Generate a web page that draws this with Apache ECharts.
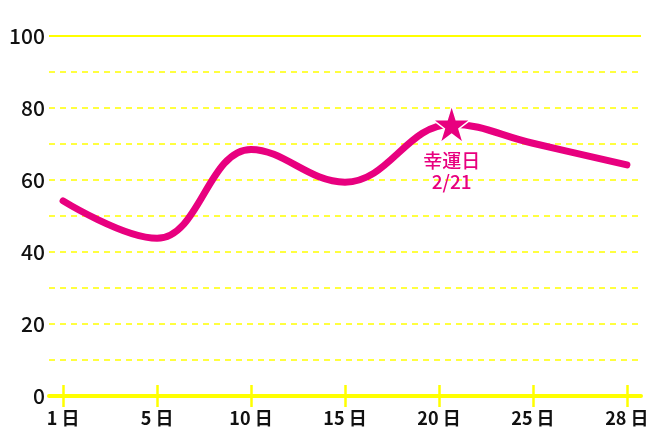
<!DOCTYPE html>
<html>
<head>
<meta charset="utf-8">
<script src="https://cdn.jsdelivr.net/npm/echarts@6/dist/echarts.min.js"></script>
<style>
html,body{margin:0;padding:0;background:#fff;}
#c{width:660px;height:440px;}
</style>
</head>
<body>
<div id="c"></div>
<script>
// ---- data ----
const dayLabels = ['1 日', '5 日', '10 日', '15 日', '20 日', '25 日', '28 日'];
const tickPos = [0, 1, 2, 3, 4, 5, 6];
// slot position of each reading on the x axis, and its value
const pointPos = [0, 1, 2, 3, 4.135, 5, 6];
const values = [54.2, 43.8, 68.5, 59.4, 75.5, 70.2, 64.2];
const luckyIndex = 4;
const luckyText = ['幸運日', '2/21'];
const yTicks = [0, 20, 40, 60, 80, 100];

const PINK = '#e8007f';
const YELLOW = '#ffff00';
const FONT = '"Noto Sans CJK JP", "Noto Sans", sans-serif';
const STAR = 'path://M50,0 L61.8,36.2 L100,36.2 L69.1,58.8 L80.9,95.1 L50,72.7 L19.1,95.1 L30.9,58.8 L0,36.2 L38.2,36.2 Z';

const chart = echarts.init(document.getElementById('c'));
const xCommon = {
  type: 'value', min: -0.15, max: 6.15, position: 'bottom',
  splitLine: { show: false }
};
chart.setOption({
  animation: false,
  grid: { left: 49, right: 19, top: 36, bottom: 44, containLabel: false },
  xAxis: [
    Object.assign({}, xCommon, {
      axisLine: { show: true, lineStyle: { color: YELLOW, width: 4 } },
      axisTick: { show: true, customValues: tickPos, length: 11, lineStyle: { color: YELLOW, width: 2.5 } },
      axisLabel: {
        show: true, customValues: tickPos, margin: 13,
        color: '#111', fontSize: 18, fontWeight: 'bold', fontFamily: FONT,
        formatter: v => dayLabels[tickPos.indexOf(Math.round(v))] || ''
      }
    }),
    Object.assign({}, xCommon, {
      axisLine: { show: false },
      axisTick: { show: true, inside: true, customValues: tickPos, length: 11, lineStyle: { color: YELLOW, width: 2.5 } },
      axisLabel: { show: false }
    })
  ],
  yAxis: {
    type: 'value', min: 0, max: 100, interval: 10,
    axisLine: { show: false }, axisTick: { show: false },
    axisLabel: {
      margin: 4, color: '#111', fontSize: 21, fontWeight: 500, fontFamily: FONT,
      formatter: v => yTicks.indexOf(v) >= 0 ? String(v) : ''
    },
    splitLine: { show: true, lineStyle: { color: YELLOW, width: 1.5, type: [6, 5] } }
  },
  series: [
    {
      type: 'line', xAxisIndex: 0,
      data: pointPos.map((x, i) => [x, values[i]]),
      smooth: 0.4, showSymbol: false, symbol: 'none',
      lineStyle: { color: PINK, width: 7, cap: 'round', join: 'round' },
      markLine: {
        silent: true, symbol: 'none', label: { show: false },
        lineStyle: { color: YELLOW, width: 2, type: 'solid' },
        data: [{ yAxis: yTicks[yTicks.length - 1] }]
      },
      z: 3
    },
    {
      type: 'scatter', xAxisIndex: 0,
      data: [[pointPos[luckyIndex], values[luckyIndex]]],
      symbol: STAR, symbolSize: 38,
      itemStyle: { color: PINK, opacity: 1, borderColor: '#fff', borderWidth: 1.5 },
      label: {
        show: true, position: 'bottom', distance: 6,
        formatter: luckyText.join('\n'),
        color: PINK, fontSize: 19, fontWeight: 500, lineHeight: 21, fontFamily: FONT, align: 'center'
      },
      z: 4
    }
  ]
});
</script>
</body>
</html>
